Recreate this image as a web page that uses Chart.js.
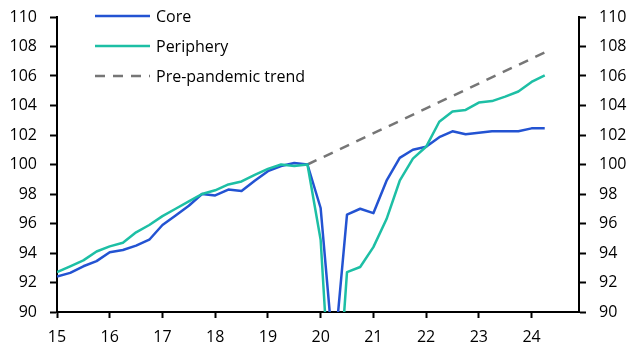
<!DOCTYPE html>
<html>
<head>
<meta charset="utf-8">
<script src="https://cdn.jsdelivr.net/npm/chart.js@4"></script>
<style>
  html, body { margin: 0; padding: 0; background: #fff; }
  #wrap { width: 638px; height: 364px; }
</style>
</head>
<body>
<div id="wrap"><canvas id="chart" width="638" height="364"></canvas></div>
<script>
// quarters (2015Q1 - 2024Q2)
var quarters = [
  '2015Q1','2015Q2','2015Q3','2015Q4','2016Q1','2016Q2','2016Q3','2016Q4',
  '2017Q1','2017Q2','2017Q3','2017Q4','2018Q1','2018Q2','2018Q3','2018Q4',
  '2019Q1','2019Q2','2019Q3','2019Q4','2020Q1','2020Q2','2020Q3','2020Q4',
  '2021Q1','2021Q2','2021Q3','2021Q4','2022Q1','2022Q2','2022Q3','2022Q4',
  '2023Q1','2023Q2','2023Q3','2023Q4','2024Q1','2024Q2'
];
var core = [
  92.4, 92.65, 93.1, 93.45, 94.05, 94.2, 94.5, 94.9,
  95.9, 96.55, 97.2, 98.0, 97.9, 98.3, 98.2, 98.9,
  99.55, 99.9, 100.1, 100.0, 97.05, 86.8, 96.6, 97.0,
  96.7, 98.9, 100.45, 101.0, 101.2, 101.85, 102.25, 102.05,
  102.15, 102.25, 102.25, 102.25, 102.45, 102.45
];
var periphery = [
  92.7, 93.1, 93.5, 94.1, 94.45, 94.7, 95.4, 95.9,
  96.5, 97.0, 97.5, 98.0, 98.25, 98.65, 98.85, 99.3,
  99.7, 100.0, 99.9, 100.0, 94.9, 80.0, 92.7, 93.05,
  94.4, 96.3, 98.9, 100.4, 101.2, 102.9, 103.6, 103.7,
  104.2, 104.3, 104.6, 104.95, 105.6, 106.05
];
var trendQuarters = ['2019Q4', '2024Q2'];
var trend = [100.0, 107.6];

var xTicks = [15, 16, 17, 18, 19, 20, 21, 22, 23, 24];
var yTicks = [90, 92, 94, 96, 98, 100, 102, 104, 106, 108, 110];

// "2017Q3" -> 17.5
function qx(q) {
  return parseInt(q.slice(2, 4), 10) + (parseInt(q.charAt(5), 10) - 1) / 4;
}
function pts(qs, vals) {
  return vals.map(function (v, i) { return { x: qx(qs[i]), y: v }; });
}

var FONT = { family: "'Open Sans', 'Noto Sans', sans-serif", size: 16 };

/*///////////////////////////////////////////////////////////
legend drawn inside the plot
///////////////////////////////////////////////////////////*/
var legendPlugin = {
  id: 'insideLegend',
  afterDraw: function (chart) {
    var ctx = chart.ctx;
    ctx.save();
    chart.data.datasets.forEach(function (ds, row) {
      var y = 16 + row * 30;
      ctx.beginPath();
      ctx.strokeStyle = ds.borderColor;
      ctx.lineWidth = ds.borderWidth;
      ctx.setLineDash(ds.borderDash || []);
      ctx.moveTo(95, y);
      ctx.lineTo(150, y);
      ctx.stroke();
      ctx.setLineDash([]);
      ctx.fillStyle = '#000';
      ctx.font = FONT.size + 'px ' + FONT.family;
      ctx.textBaseline = 'middle';
      ctx.textAlign = 'left';
      ctx.fillText(ds.label, 156, y + 1);
    });
    ctx.restore();
  }
};

function yAxis(pos, w) {
  return {
    type: 'linear',
    position: pos,
    min: 90,
    max: 110,
    afterBuildTicks: function (s) { s.ticks = yTicks.map(function (v) { return { value: v }; }); },
    afterFit: function (s) { s.width = w; s.paddingTop = 0; s.paddingBottom = 0; },
    ticks: { color: '#000', font: FONT, padding: 13 },
    grid: { drawOnChartArea: false, tickLength: 7, tickColor: '#000', tickWidth: 2 },
    border: { color: '#000', width: 2 }
  };
}

var ctx = document.getElementById('chart').getContext('2d');
var chart = new Chart(ctx, {
  type: 'line',
  data: {
    datasets: [
      { label: 'Core', data: pts(quarters, core), borderColor: '#2353d2', borderWidth: 2.5, order: 1 },
      { label: 'Periphery', data: pts(quarters, periphery), borderColor: '#1dbfa5', borderWidth: 2.5, order: 0 },
      { label: 'Pre-pandemic trend', data: pts(trendQuarters, trend), borderColor: '#767676', borderWidth: 2.5, borderDash: [10, 8], order: 2 }
    ]
  },
  options: {
    responsive: false,
    animation: false,
    layout: { padding: { top: 17, left: 0, right: 0, bottom: 0 } },
    elements: {
      point: { radius: 0 },
      line: { tension: 0, borderCapStyle: 'butt', borderJoinStyle: 'round', fill: false }
    },
    datasets: { line: { clip: 0 } },
    plugins: { legend: { display: false }, tooltip: { enabled: false } },
    scales: {
      x: {
        type: 'linear',
        min: 15,
        max: 24.9,
        afterBuildTicks: function (s) { s.ticks = xTicks.map(function (v) { return { value: v }; }); },
        afterFit: function (s) { s.height = 52; s.paddingLeft = 0; s.paddingRight = 0; },
        ticks: { color: '#000', font: FONT, padding: 10, maxRotation: 0, autoSkip: false,
                 callback: function (v) { return String(v); } },
        grid: { drawOnChartArea: false, tickLength: 6, tickColor: '#000', tickWidth: 2 },
        border: { color: '#000', width: 2 }
      },
      y: yAxis('left', 57),
      y2: yAxis('right', 59)
    }
  },
  plugins: [legendPlugin]
});
</script>
</body>
</html>
